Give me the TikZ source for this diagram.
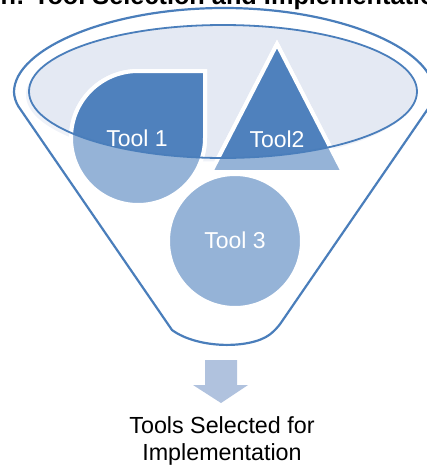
\documentclass[tikz,border=0pt]{standalone}
\usepackage{fontspec}
\setmainfont{Liberation Sans}
\definecolor{rimblue}{RGB}{74,126,187}
\definecolor{darkfill}{RGB}{79,129,189}
\definecolor{lightfill}{RGB}{149,179,215}
\definecolor{rimfill}{RGB}{228,233,243}
\definecolor{arrowfill}{RGB}{176,194,222}

\begin{document}
\begin{tikzpicture}[x=1pt,y=-1pt]
		\useasboundingbox (0,0) rectangle (427,469);
		\clip (0,0) rectangle (427,469);

		\node[anchor=base west,inner sep=0pt,font=\fontsize{25.3}{30}\selectfont\bfseries] (title) at (-15,4.3) {on: Tool Selection and Implementation};

		% funnel body
		\draw[rimblue,line width=2.2pt] (172,330) [rounded corners=8pt] -- (14,100)
			arc[start angle=180,end angle=360,x radius=210,y radius=92]
			-- (276,330) [sharp corners] .. controls (250,349) and (198,349) .. (172,330) -- cycle;
		\fill[rimfill!60!white] (220,95) ellipse [x radius=194,y radius=66.5];
		\fill[rimfill] (223,91.5) ellipse [x radius=194,y radius=66.5];

		\begin{scope}[every path/.style={draw=white,line width=4pt,fill=lightfill}]
			\path (138,71) arc[start angle=270,end angle=0,radius=67] -- (205,71) -- cycle;
			\path (277,44) -- (211,172) -- (343,172) -- cycle;
			\path (235,241) circle [radius=67];
		\end{scope}

		\begin{scope}
			\clip (223,91.5) ellipse [x radius=194,y radius=66.5];
			\begin{scope}[every path/.style={draw=white,line width=4pt,fill=darkfill}]
				\path (138,71) arc[start angle=270,end angle=0,radius=67] -- (205,71) -- cycle;
				\path (277,44) -- (211,172) -- (343,172) -- cycle;
			\end{scope}
		\end{scope}
		\draw[rimblue,line width=1.8pt] (223,91.5) ellipse [x radius=194,y radius=66.5];

		\begin{scope}[every node/.style={text=white,inner sep=0pt,font=\fontsize{23}{27}\selectfont}]
			\node (tool1) at (137,138) {Tool 1};
			\node (tool2) at (277,139) {Tool2};
			\node (tool3) at (235,240) {Tool 3};
		\end{scope}

		% output arrow
		\fill[arrowfill] (205,360) -- (237,360) -- (237,385) -- (248,385) -- (221,403) -- (193,385) -- (205,385) -- cycle;
		\node[anchor=north,inner sep=0pt,align=center,font=\fontsize{23.3}{27}\selectfont] (result) at (222,416) {Tools Selected for\\Implementation};
\end{tikzpicture}
\end{document}
